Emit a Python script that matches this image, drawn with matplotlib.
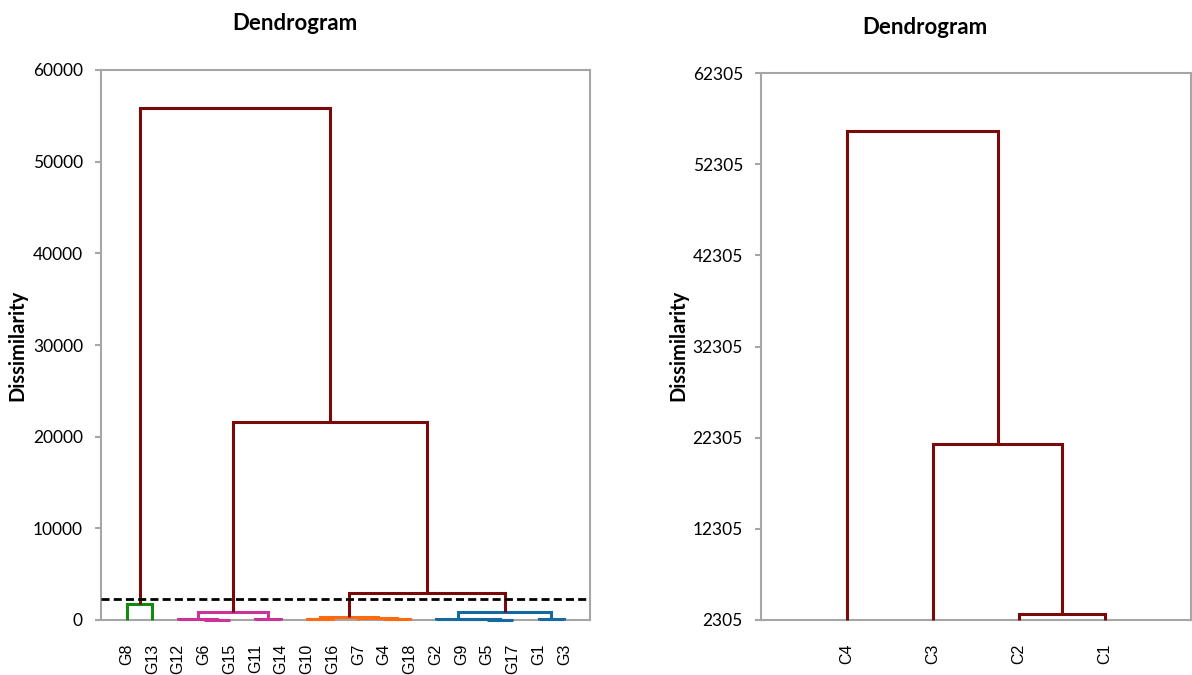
import matplotlib
matplotlib.use("Agg")
import matplotlib.pyplot as plt

# ---------------- data ----------------
left_leaves = ['G8', 'G13', 'G12', 'G6', 'G15', 'G11', 'G14', 'G10', 'G16',
               'G7', 'G4', 'G18', 'G2', 'G9', 'G5', 'G17', 'G1', 'G3']
# merges: node names N0, N1, ... in order
left_a = ['G8', 'G6', 'G12', 'G11', 'N2', 'G10', 'G4', 'G7', 'N5',
          'G5', 'G9', 'G2', 'G1', 'N11', 'N8', 'N4', 'N0']
left_b = ['G13', 'G15', 'N1', 'G14', 'N3', 'G16', 'G18', 'N6', 'N7',
          'G17', 'N9', 'N10', 'G3', 'N12', 'N13', 'N14', 'N15']
left_h = [1750, 30, 90, 100, 850, 90, 60, 180, 360,
          40, 90, 120, 100, 850, 2950, 21650, 55900]
left_c = ['green', 'pink', 'pink', 'pink', 'pink', 'orange', 'orange', 'orange', 'orange',
          'blue', 'blue', 'blue', 'blue', 'blue', 'dark', 'dark', 'dark']
cut_level = 2305
left_yticks = [0, 10000, 20000, 30000, 40000, 50000, 60000]

right_leaves = ['C4', 'C3', 'C2', 'C1']
right_a = ['C2', 'C3', 'C4']
right_b = ['C1', 'N0', 'N1']
right_h = [2950, 21650, 55900]
right_c = ['dark', 'dark', 'dark']
right_yticks = [2305, 12305, 22305, 32305, 42305, 52305, 62305]

palette = {'dark': '#7a0a0a', 'green': '#128a12', 'pink': '#cc3399',
           'orange': '#ff6a10', 'blue': '#14699e'}

TICK_FONT = 'Lato'
LABEL_FONT = 'Liberation Sans'
FRAME = '#a6a6a6'


def draw_dendro(ax, leaves, a, b, h, cols, base):
    pos = {leaf: i + 1 for i, leaf in enumerate(leaves)}
    hgt = {leaf: base for leaf in leaves}
    for k, (l, r, hh, c) in enumerate(zip(a, b, h, cols)):
        xl, xr = pos[l], pos[r]
        ax.plot([xl, xl, xr, xr], [hgt[l], hh, hh, hgt[r]], color=palette[c],
                lw=2.2, solid_joinstyle='miter', solid_capstyle='butt',
                zorder=3, clip_on=False)
        pos[f'N{k}'] = (xl + xr) / 2
        hgt[f'N{k}'] = hh
    ax.set_xlim(0, len(leaves) + 1)
    ax.set_xticks(range(1, len(leaves) + 1))
    ax.set_xticklabels(leaves, rotation=90, fontfamily=LABEL_FONT,
                       fontsize=11.5, va='top')


def style(ax, yticks):
    ax.set_ylim(yticks[0], yticks[-1])
    ax.set_yticks(yticks)
    ax.set_yticklabels([str(t) for t in yticks], fontfamily=TICK_FONT, fontsize=12.5)
    for s in ax.spines.values():
        s.set_color(FRAME)
        s.set_linewidth(1.5)
    ax.tick_params(axis='y', length=4.5, width=1.5, color=FRAME, pad=8.5)
    ax.tick_params(axis='x', length=0, pad=17)


fig = plt.figure(figsize=(11.92, 6.75), dpi=100)

axL = fig.add_axes([101 / 1192, 1 - 620 / 675, 489 / 1192, 550 / 675])
draw_dendro(axL, left_leaves, left_a, left_b, left_h, left_c, 0)
axL.axhline(cut_level, color='black', lw=2, ls=(0, (2.9, 1.5)), zorder=4)
style(axL, left_yticks)

axR = fig.add_axes([761 / 1192, 1 - 620 / 675, 430 / 1192, 547 / 675])
draw_dendro(axR, right_leaves, right_a, right_b, right_h, right_c, right_yticks[0])
style(axR, right_yticks)

# axis labels at reference positions (figure pixels)
fig.text(17 / 1192, 1 - 345 / 675, 'Dissimilarity', rotation=90, ha='center', va='center',
         fontfamily=TICK_FONT, fontweight='bold', fontsize=14.5)
fig.text(678 / 1192, 1 - 345 / 675, 'Dissimilarity', rotation=90, ha='center', va='center',
         fontfamily=TICK_FONT, fontweight='bold', fontsize=14.5)

fig.text(295 / 1192, 1 - 23 / 675, 'Dendrogram', ha='center', va='center',
         fontfamily=TICK_FONT, fontweight='bold', fontsize=16)
fig.text(925 / 1192, 1 - 27 / 675, 'Dendrogram', ha='center', va='center',
         fontfamily=TICK_FONT, fontweight='bold', fontsize=16)

fig.savefig('out.png', dpi=100, facecolor='white')
